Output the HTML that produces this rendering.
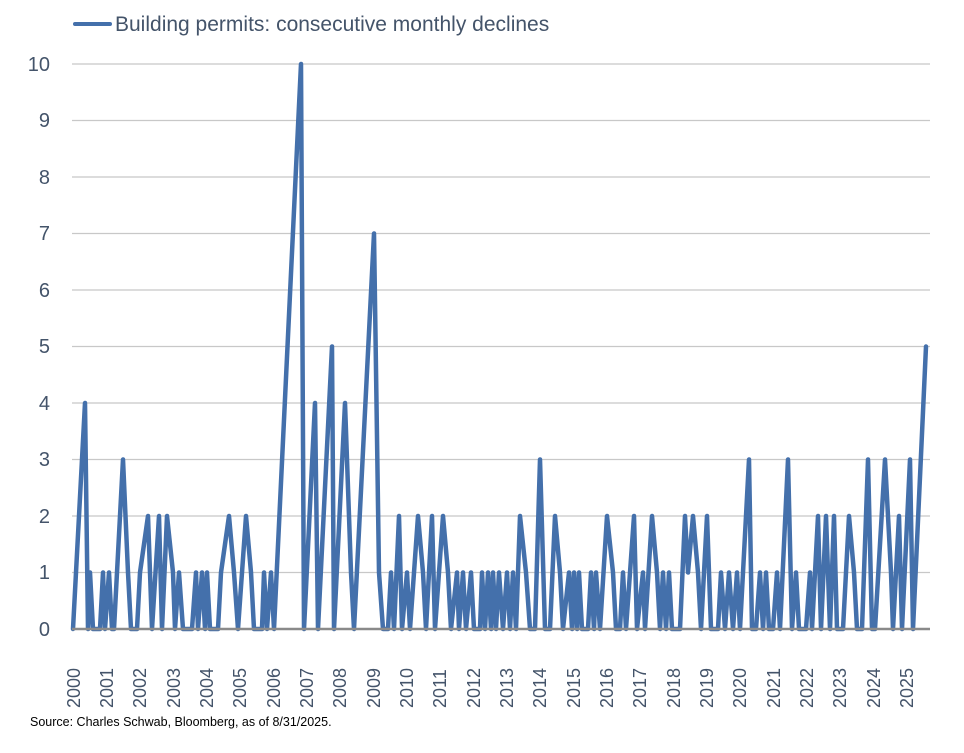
<!DOCTYPE html>
<html><head><meta charset="utf-8"><style>
html,body{margin:0;padding:0;background:#fff;}
svg{display:block;font-family:"Liberation Sans",sans-serif;}
</style></head><body>
<svg width="964" height="753" viewBox="0 0 964 753" xmlns="http://www.w3.org/2000/svg">
<line x1="75" y1="24" x2="110" y2="24" stroke="#4470ab" stroke-width="4" stroke-linecap="round"/>
<text x="115" y="31" font-size="21" fill="#44546a">Building permits: consecutive monthly declines</text>
<g stroke="#c8c8c8" stroke-width="1.2">
<line x1="72" x2="930" y1="64" y2="64"/><line x1="72" x2="930" y1="120.5" y2="120.5"/>
<line x1="72" x2="930" y1="177" y2="177"/><line x1="72" x2="930" y1="233.5" y2="233.5"/>
<line x1="72" x2="930" y1="290" y2="290"/><line x1="72" x2="930" y1="346.5" y2="346.5"/>
<line x1="72" x2="930" y1="403" y2="403"/><line x1="72" x2="930" y1="459.5" y2="459.5"/>
<line x1="72" x2="930" y1="516" y2="516"/><line x1="72" x2="930" y1="572.5" y2="572.5"/>
</g>
<g font-size="20" fill="#44546a" text-anchor="end">
<text x="50" y="71">10</text><text x="50" y="127">9</text><text x="50" y="184">8</text>
<text x="50" y="240">7</text><text x="50" y="297">6</text><text x="50" y="353">5</text>
<text x="50" y="410">4</text><text x="50" y="466">3</text><text x="50" y="523">2</text>
<text x="50" y="579">1</text><text x="50" y="636">0</text>
</g>
<polyline fill="none" stroke="#4470ab" stroke-width="4.5" stroke-linejoin="round" stroke-linecap="round" points="
73,629 85,403 88,629 90,572.5 93,629 100,629 103,572.5 105,629 109,572.5 112,629 114,629 123,459.5 128,572.5 131,629 137,629 140,572.5 148,516 152,629 159,516 162,629 167,516 173,572.5 175,629 179,572.5 183,629 192,629 196,572.5 198,629 202,572.5 205,629 207,572.5 210,629 218,629 221,572.5 229,516 234,572.5 238,629 246,516 251,572.5 254,629 262,629 264,572.5 267,629 271,572.5 274,629 301,64 304,629 315,403 318,629 332,346.5 334,629 345,403 351,572.5 354,629 374,233.5 379,572.5 383,629 388,629 391,572.5 394,629 399,516 402,629 407,572.5 410,629 418,516 423,572.5 426,629 432,516 435,629 443,516 448,572.5 451,629 457,572.5 459,629 463,572.5 466,629 471,572.5 474,629 480,629 482,572.5 485,629 488,572.5 491,629 493,572.5 496,629 499,572.5 503,629 507,572.5 510,629 513,572.5 516,629 520,516 526,572.5 530,629 535,629 540,459.5 545,629 550,629 555,516 560,572.5 563,629 569,572.5 572,629 574,572.5 577,629 579,572.5 582,629 588,629 591,572.5 594,629 596,572.5 600,629 607,516 613,572.5 616,629 620,629 623,572.5 626,629 634,516 637,629 643,572.5 645,629 652,516 657,572.5 660,629 663,572.5 666,629 669,572.5 672,629 680,629 685,516 688,572.5 693,516 698,572.5 701,629 707,516 711,629 718,629 721,572.5 725,629 729,572.5 733,629 737,572.5 740,629 749,459.5 752,629 756,629 760,572.5 763,629 766,572.5 769,629 773,629 777,572.5 780,629 788,459.5 792,629 796,572.5 799,629 806,629 810,572.5 812,629 818,516 821,629 826,516 830,629 834,516 837,629 843,629 849,516 854,572.5 857,629 862,629 868,459.5 872,629 875,629 885,459.5 891,572.5 893,629 899,516 902,629 910,459.5 913,629 926,346.5"/>
<line x1="72" x2="930" y1="629" y2="629" stroke="#8a8a8a" stroke-width="2.5"/>
<g font-size="18" fill="#44546a" text-anchor="start">
<text transform="translate(80,708) rotate(-90)">2000</text>
<text transform="translate(113,708) rotate(-90)">2001</text>
<text transform="translate(146,708) rotate(-90)">2002</text>
<text transform="translate(180,708) rotate(-90)">2003</text>
<text transform="translate(213,708) rotate(-90)">2004</text>
<text transform="translate(246,708) rotate(-90)">2005</text>
<text transform="translate(280,708) rotate(-90)">2006</text>
<text transform="translate(313,708) rotate(-90)">2007</text>
<text transform="translate(346,708) rotate(-90)">2008</text>
<text transform="translate(380,708) rotate(-90)">2009</text>
<text transform="translate(413,708) rotate(-90)">2010</text>
<text transform="translate(446,708) rotate(-90)">2011</text>
<text transform="translate(480,708) rotate(-90)">2012</text>
<text transform="translate(513,708) rotate(-90)">2013</text>
<text transform="translate(546,708) rotate(-90)">2014</text>
<text transform="translate(580,708) rotate(-90)">2015</text>
<text transform="translate(613,708) rotate(-90)">2016</text>
<text transform="translate(646,708) rotate(-90)">2017</text>
<text transform="translate(680,708) rotate(-90)">2018</text>
<text transform="translate(713,708) rotate(-90)">2019</text>
<text transform="translate(746,708) rotate(-90)">2020</text>
<text transform="translate(780,708) rotate(-90)">2021</text>
<text transform="translate(813,708) rotate(-90)">2022</text>
<text transform="translate(846,708) rotate(-90)">2023</text>
<text transform="translate(880,708) rotate(-90)">2024</text>
<text transform="translate(913,708) rotate(-90)">2025</text>
</g>
<text x="30" y="726" font-size="12.5" fill="#000">Source: Charles Schwab, Bloomberg, as of 8/31/2025.</text>
</svg>
</body></html>
